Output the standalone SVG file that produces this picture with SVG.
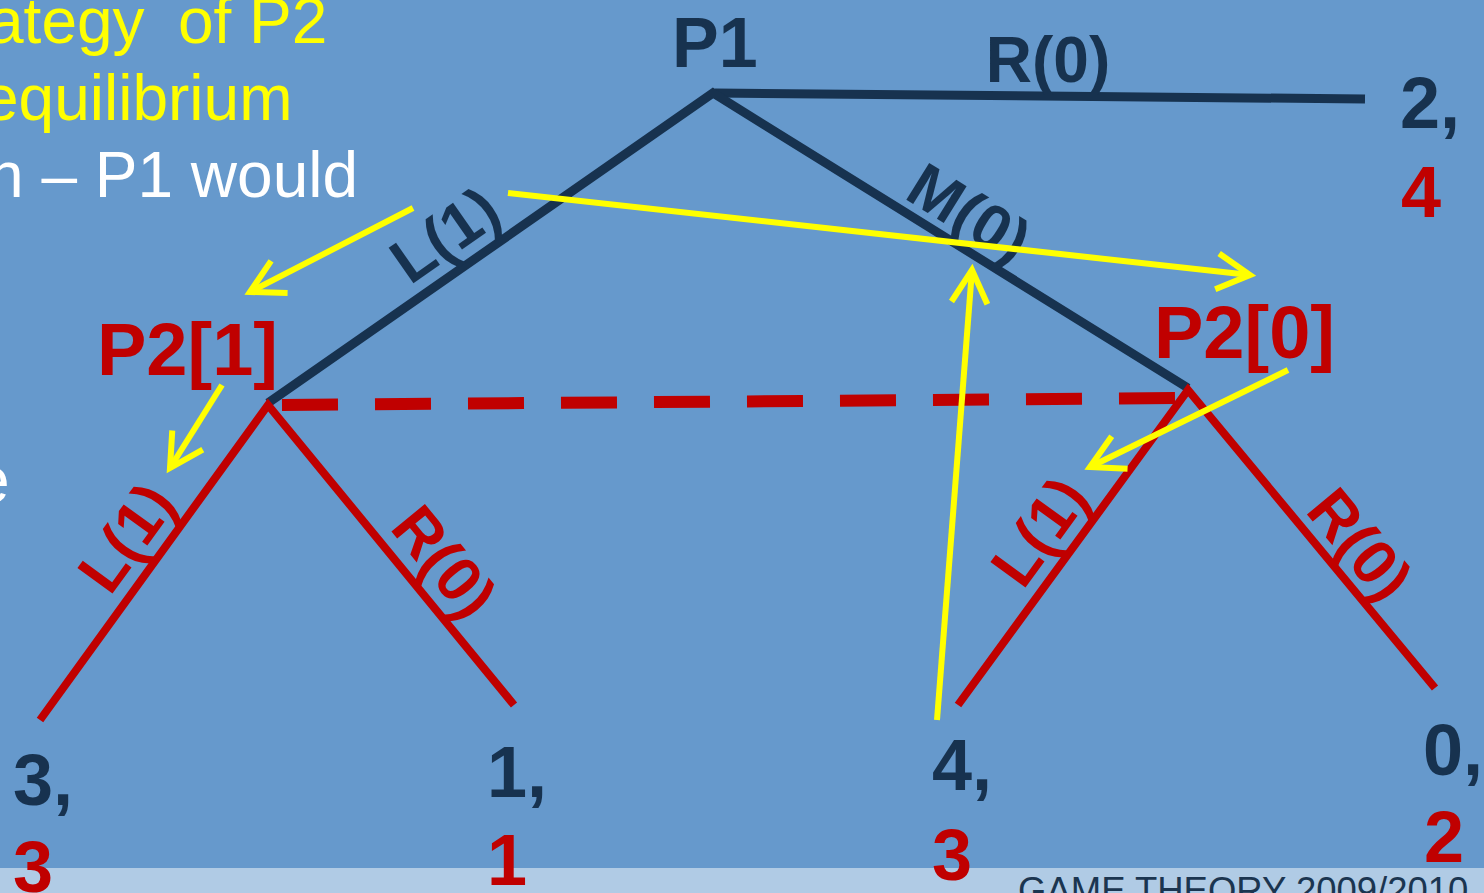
<svg xmlns="http://www.w3.org/2000/svg" width="1484" height="893" viewBox="0 0 1484 893">
<style>
.bg{fill:#6699CC}
.band{fill:#B0CBE5}
.txt{font-family:"Liberation Sans",Arial,sans-serif;font-size:64px}
.y{fill:#FFFF00}
.w{fill:#FFFFFF}
.b{font-family:"Liberation Sans",Arial,sans-serif;font-weight:bold}
.navy{fill:#17324F}
.red{fill:#C00000}
.pay{font-size:72px}
.lbl{font-size:63px;text-anchor:middle}
.dk{stroke:#17324F;stroke-width:9;fill:none;stroke-linecap:butt}
.rd{stroke:#C00000;stroke-width:8;fill:none}
.dash{stroke:#C00000;stroke-width:12;stroke-dasharray:56 37;fill:none}
.arr{stroke:#FFFF00;stroke-width:6;fill:none;marker-end:url(#ah)}
.foot{font-family:"Liberation Sans",Arial,sans-serif;font-size:36.5px;fill:#1B3550}
</style>
<defs>
<marker id="ah" markerUnits="userSpaceOnUse" markerWidth="80" markerHeight="80" refX="0" refY="0" orient="auto" overflow="visible">
<path d="M-33,-18 L0,0 L-33,18" fill="none" stroke="#FFFF00" stroke-width="6"/>
</marker>
</defs>
<rect class="bg" x="0" y="0" width="1484" height="893"/>
<rect class="band" x="0" y="868" width="1484" height="25"/>
<text class="foot" x="1018" y="903">GAME THEORY 2009/2010</text>

<g id="side-text">
<text class="txt y" y="43"><tspan x="-12">ategy</tspan><tspan x="178">of</tspan><tspan x="249">P2</tspan></text>
<text class="txt y" x="-17" y="120">equilibrium</text>
<text class="txt w" x="-12" y="197">n – P1 would</text>
<text class="txt w" x="-26" y="502">e</text>
</g>

<g id="connectors">
<line class="dk" x1="715" y1="93" x2="1365" y2="99"/>
<polyline class="dk" points="268,403 713,93 1188,388" stroke-linejoin="miter"/>
<polyline class="rd" points="40,720 268,405 514,705"/>
<polyline class="rd" points="958,705 1188,390 1435,688"/>
<line class="dash" x1="282" y1="405" x2="1182" y2="398"/>
<text class="b lbl navy" x="1048" y="82" style="font-size:64px">R(0)</text>
<text class="b lbl navy" transform="translate(466,265) rotate(-35)" x="0" y="-15">L(1)</text>
<text class="b lbl navy" transform="translate(952,241) rotate(31.8)" x="0" y="-11">M(0)</text>
<text class="b lbl red" transform="translate(156,559) rotate(-54)" x="0" y="-15">L(1)</text>
<text class="b lbl red" transform="translate(416,585) rotate(50.6)" x="0" y="-15">R(0)</text>
<text class="b lbl red" transform="translate(1069,553) rotate(-54)" x="0" y="-15">L(1)</text>
<text class="b lbl red" transform="translate(1334,566) rotate(50.4)" x="0" y="-12">R(0)</text>
</g>

<g id="arrows">
<line class="arr" x1="413" y1="208" x2="250" y2="292"/>
<line class="arr" x1="508" y1="193" x2="1250" y2="275"/>
<line class="arr" x1="937" y1="720" x2="972" y2="270"/>
<line class="arr" x1="1288" y1="370" x2="1090" y2="467"/>
<line class="arr" x1="222" y1="385" x2="170" y2="468"/>
</g>

<g id="node-p1"><text class="b navy" x="672" y="67" style="font-size:70px">P1</text></g>
<g id="node-p2-left"><text class="b red" x="97" y="375" style="font-size:74px">P2[1]</text></g>
<g id="node-p2-right"><text class="b red" x="1154" y="358" style="font-size:74px">P2[0]</text></g>

<g id="payoff-r"><text class="b pay navy" x="1400" y="128">2,</text><text class="b pay red" x="1401" y="217">4</text></g>
<g id="payoff-ll"><text class="b pay navy" x="13" y="805">3,</text><text class="b pay red" x="13" y="892">3</text></g>
<g id="payoff-lr"><text class="b pay navy" x="487" y="797">1,</text><text class="b pay red" x="487" y="885">1</text></g>
<g id="payoff-rl"><text class="b pay navy" x="932" y="790">4,</text><text class="b pay red" x="932" y="880">3</text></g>
<g id="payoff-rr"><text class="b pay navy" x="1423" y="775">0,</text><text class="b pay red" x="1424" y="862">2</text></g>
</svg>
